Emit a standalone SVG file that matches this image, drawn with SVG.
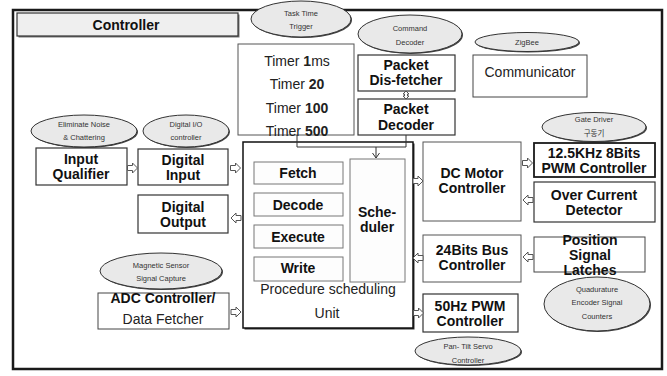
<svg xmlns="http://www.w3.org/2000/svg" width="667" height="376" viewBox="0 0 667 376">
<defs>
<style>
.frame{fill:none;stroke:#1a1a1a;stroke-width:2.5}
.box{fill:#fff;stroke:#333;stroke-width:1.2}
.shd{fill:#777}
.sub{fill:#fdfdfd;stroke:#777;stroke-width:1}
.ell{fill:#e9e9e9;stroke:#333;stroke-width:1}
.eshd{fill:#444}
.b{font-family:"Liberation Sans",Arial,sans-serif;font-weight:bold;font-size:14px;fill:#111;text-anchor:middle;dominant-baseline:central}
.r{font-family:"Liberation Sans",Arial,sans-serif;font-size:14px;fill:#222;text-anchor:middle;dominant-baseline:central}
.s{font-family:"Liberation Sans","Noto Sans CJK KR",Arial,sans-serif;font-size:7.5px;fill:#333;text-anchor:middle;dominant-baseline:central}
.arr{fill:#fff;stroke:#555;stroke-width:1}
.ln{fill:none;stroke:#333;stroke-width:1}
</style>
<path id="ar" d="M0,-2.5 H5 V-5 L10,0 L5,5 V2.5 H0 Z"/>
</defs>

<rect x="0" y="0" width="667" height="376" fill="#fff"/>
<path class="frame" d="M13,10 H662 V369 H13 Z"/>

<g id="controller-label">
<rect x="18.5" y="14.5" width="221" height="23" class="shd"/>
<rect x="17" y="13" width="221" height="23" fill="#efefef" stroke="#333" stroke-width="1.2"/>
<text class="b" x="126" y="25">Controller</text>
</g>

<g id="task-time-trigger">
<ellipse cx="302" cy="20" rx="50" ry="18" class="eshd"/>
<ellipse cx="301" cy="19" rx="50" ry="18" class="ell"/>
<text class="s" x="301" y="13">Task Time</text>
<text class="s" x="301" y="26">Trigger</text>
</g>

<g id="timers">
<rect x="238" y="44" width="116" height="91" fill="#fff" stroke="#555" stroke-width="1"/>
<text class="r" x="297" y="61">Timer <tspan font-weight="bold">1</tspan>ms</text>
<text class="r" x="297" y="84">Timer <tspan font-weight="bold">20</tspan></text>
<text class="r" x="297" y="108">Timer <tspan font-weight="bold">100</tspan></text>
<text class="r" x="297" y="131">Timer <tspan font-weight="bold">500</tspan></text>
</g>

<g id="command-decoder">
<ellipse cx="411" cy="35" rx="52" ry="19" class="eshd"/>
<ellipse cx="410" cy="34" rx="52" ry="19" class="ell"/>
<text class="s" x="410" y="28">Command</text>
<text class="s" x="410" y="42">Decoder</text>
</g>

<g id="packet-disfetcher">
<rect x="358" y="55" width="97" height="36" class="box"/>
<text class="b" x="406" y="65">Packet</text>
<text class="b" x="406" y="80">Dis-fetcher</text>
</g>

<g id="packet-decoder">
<rect x="358" y="99" width="97" height="36" class="box"/>
<text class="b" x="406" y="109">Packet</text>
<text class="b" x="406" y="125">Decoder</text>
</g>

<g id="zigbee">
<ellipse cx="528" cy="43" rx="52" ry="9.5" class="eshd"/>
<ellipse cx="527" cy="42" rx="52" ry="9.5" class="ell"/>
<text class="s" x="527" y="42">ZigBee</text>
</g>

<g id="communicator">
<rect x="473" y="55" width="114" height="42" fill="#fff" stroke="#444" stroke-width="1"/>
<text class="r" x="530" y="72" font-size="14.5">Communicator</text>
</g>

<g id="gate-driver">
<ellipse cx="595" cy="128" rx="52" ry="14.5" class="eshd"/>
<ellipse cx="594" cy="127" rx="52" ry="14.5" class="ell"/>
<text class="s" x="594" y="119">Gate Driver</text>
<text class="s" x="594" y="133">구동기</text>
</g>

<g id="pwm-8bits">
<rect x="534" y="143" width="121" height="34" fill="#fff" stroke="#1a1a1a" stroke-width="1.8"/>
<text class="b" x="594" y="153">12.5KHz 8Bits</text>
<text class="b" x="594" y="168">PWM Controller</text>
</g>

<g id="over-current">
<rect x="534" y="182" width="121" height="40" class="box"/>
<text class="b" x="594" y="194.5">Over Current</text>
<text class="b" x="594" y="209.5">Detector</text>
</g>

<g id="dc-motor">
<rect x="423" y="142" width="98" height="79" fill="#fff" stroke="#555" stroke-width="1"/>
<text class="b" x="472" y="173">DC Motor</text>
<text class="b" x="472" y="188">Controller</text>
</g>

<g id="bus-24bits">
<rect x="423" y="235" width="98" height="47" fill="#fff" stroke="#555" stroke-width="1"/>
<text class="b" x="472" y="250">24Bits Bus</text>
<text class="b" x="472" y="265">Controller</text>
</g>

<g id="position-latches">
<rect x="534" y="237" width="111" height="35" fill="#fff" stroke="#444" stroke-width="1"/>
<text class="b" x="590" y="240">Position</text>
<text class="b" x="590" y="255">Signal</text>
<text class="b" x="590" y="270">Latches</text>
</g>

<g id="quadrature">
<ellipse cx="598" cy="305" rx="53" ry="27" class="eshd"/>
<ellipse cx="597" cy="304" rx="53" ry="27" class="ell"/>
<text class="s" x="597" y="289">Quadurature</text>
<text class="s" x="597" y="302">Encoder Signal</text>
<text class="s" x="597" y="316">Counters</text>
</g>

<g id="pwm-50hz">
<rect x="423" y="294" width="95" height="38" fill="#fff" stroke="#333" stroke-width="1.2"/>
<text class="b" x="470" y="305.5">50Hz PWM</text>
<text class="b" x="470" y="320.5">Controller</text>
</g>

<g id="pan-tilt">
<ellipse cx="469" cy="352" rx="53" ry="14" class="eshd"/>
<ellipse cx="468" cy="351" rx="53" ry="14" class="ell"/>
<text class="s" x="468" y="346">Pan- Tilt Servo</text>
<text class="s" x="468" y="360">Controller</text>
</g>

<g id="eliminate-noise">
<ellipse cx="85" cy="132" rx="53" ry="16" class="eshd"/>
<ellipse cx="84" cy="131" rx="53" ry="16" class="ell"/>
<text class="s" x="84" y="124">Eliminate Noise</text>
<text class="s" x="84" y="137">&amp; Chattering</text>
</g>

<g id="digital-io">
<ellipse cx="187" cy="132" rx="43" ry="16" class="eshd"/>
<ellipse cx="186" cy="131" rx="43" ry="16" class="ell"/>
<text class="s" x="186" y="124">Digital I/O</text>
<text class="s" x="186" y="137">controller</text>
</g>

<g id="input-qualifier">
<rect x="36" y="148" width="91" height="37" class="box"/>
<text class="b" x="81" y="159">Input</text>
<text class="b" x="81" y="174">Qualifier</text>
</g>

<g id="digital-input">
<rect x="138" y="149" width="90" height="36" class="box"/>
<text class="b" x="183" y="160">Digital</text>
<text class="b" x="183" y="175">Input</text>
</g>

<g id="digital-output">
<rect x="138" y="195" width="90" height="38" class="box"/>
<text class="b" x="183" y="207">Digital</text>
<text class="b" x="183" y="222">Output</text>
</g>

<g id="magnetic-sensor">
<ellipse cx="162" cy="272" rx="61" ry="18" class="eshd"/>
<ellipse cx="161" cy="271" rx="61" ry="18" class="ell"/>
<text class="s" x="161" y="265">Magnetic Sensor</text>
<text class="s" x="161" y="278">Signal Capture</text>
</g>

<g id="adc-controller">
<rect x="98" y="293" width="131" height="36" fill="#fff" stroke="#444" stroke-width="1"/>
<text class="b" x="163" y="298">ADC Controller/</text>
<text class="r" x="163" y="319">Data Fetcher</text>
</g>

<g id="procedure-unit">
<rect x="244.5" y="143.5" width="170" height="186" fill="#333"/>
<rect x="243" y="142" width="170" height="186" fill="#fff" stroke="#111" stroke-width="1.5"/>
<text class="r" x="328" y="289">Procedure scheduling</text>
<text class="r" x="327" y="313">Unit</text>
</g>

<g id="fetch">
<rect x="254" y="162" width="89" height="22" class="sub"/>
<text class="b" x="298" y="173">Fetch</text>
</g>
<g id="decode">
<rect x="254" y="193" width="89" height="23" class="sub"/>
<text class="b" x="298" y="205">Decode</text>
</g>
<g id="execute">
<rect x="254" y="225" width="89" height="23" class="sub"/>
<text class="b" x="298" y="237">Execute</text>
</g>
<g id="write">
<rect x="254" y="257" width="89" height="24" class="sub"/>
<text class="b" x="298" y="268">Write</text>
</g>
<g id="scheduler">
<rect x="350" y="159" width="55" height="123" class="sub"/>
<text class="b" x="377" y="212">Sche-</text>
<text class="b" x="377" y="227">duler</text>
</g>

<g id="connectors">
<path class="ln" d="M297,135 V147 H406 V135"/>
<path class="ln" d="M376,147 V158 M372.5,153 L376,158 L379.5,153"/>
<path class="arr" stroke-width="0.8" d="M406,91 L409,94 H407.5 V96 H409 L406,99 L403,96 H404.5 V94 H403 Z"/>
<use href="#ar" class="arr" transform="translate(127.5,168)"/>
<use href="#ar" class="arr" transform="translate(230.5,168)"/>
<use href="#ar" class="arr" transform="translate(241,218) scale(-1,1)"/>
<use href="#ar" class="arr" transform="translate(231,312)"/>
<use href="#ar" class="arr" transform="translate(413,181)"/>
<use href="#ar" class="arr" transform="translate(522.5,163)"/>
<use href="#ar" class="arr" transform="translate(533,200) scale(-1,1)"/>
<use href="#ar" class="arr" transform="translate(423,258) scale(-1,1)"/>
<use href="#ar" class="arr" transform="translate(533,257) scale(-1,1)"/>
<use href="#ar" class="arr" transform="translate(413.5,313)"/>
</g>
</svg>
